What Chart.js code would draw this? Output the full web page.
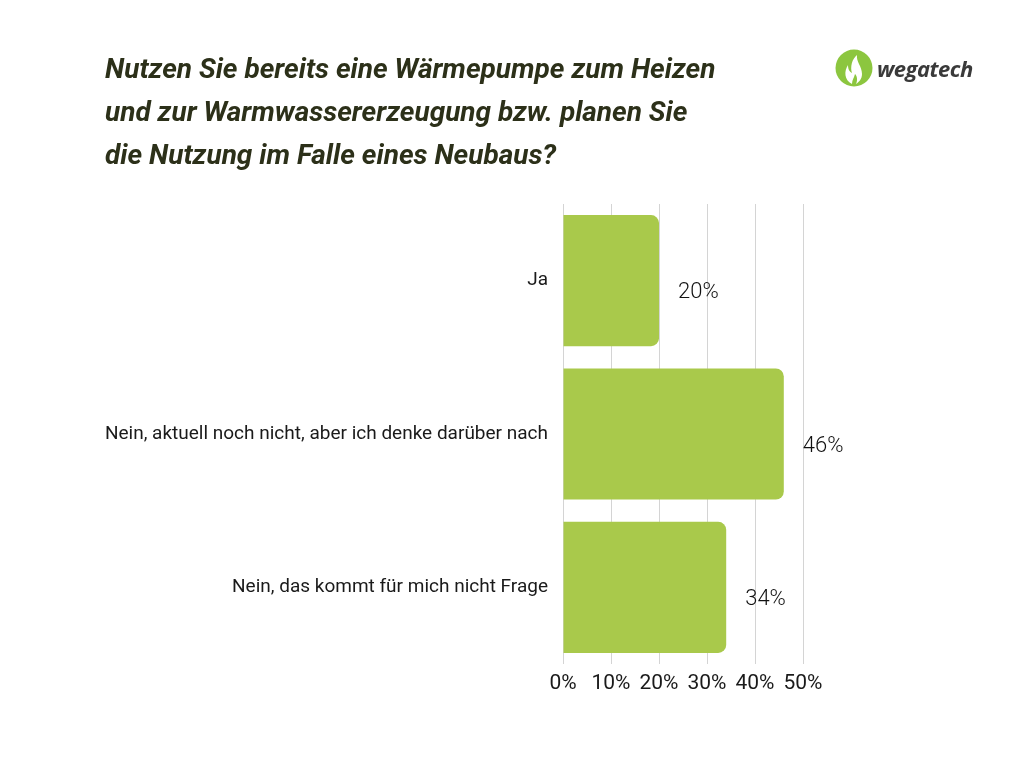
<!DOCTYPE html>
<html>
<head>
<meta charset="utf-8">
<script src="https://cdn.jsdelivr.net/npm/chart.js@4/dist/chart.umd.min.js"></script>
<style>
  html, body { margin: 0; padding: 0; background: #fff; }
  #wrap { position: relative; width: 1024px; height: 768px; }
  #chart { position: absolute; left: 0; top: 0; }
  #title {
    position: absolute; left: 105px; top: 47px;
    font-family: "Roboto", sans-serif;
    font-weight: bold; font-style: italic;
    font-size: 28px; line-height: 43px; color: #2c3019;
  }
  #logo { position: absolute; left: 835px; top: 49px; display: flex; align-items: center; }
  #logo span {
    font-family: "Open Sans", sans-serif; font-weight: bold; font-style: italic;
    font-size: 22px; color: #3a3a3a; margin-left: 4px; letter-spacing: -0.5px;
  }
</style>
</head>
<body>
<div id="wrap">
  <canvas id="chart" width="1024" height="768"></canvas>
  <div id="title">Nutzen Sie bereits eine Wärmepumpe zum Heizen<br>und zur Warmwassererzeugung bzw. planen Sie<br>die Nutzung im Falle eines Neubaus?</div>
  <div id="logo">
    <svg width="38" height="38" viewBox="0 0 38 38">
      <circle cx="19" cy="19" r="18.5" fill="#8cc63f"/>
      <path d="M17 35 C9 31 9 22 13 16 C13 21 15 23 17 24 C15 18 17 10 22 6 C21 13 27 17 27 25 C27 30 24 33 21 35 C23 31 22 27 20 25 C19 29 17 31 17 35 Z" fill="#fff"/>
    </svg>
    <span>wegatech</span>
  </div>
</div>
<script>
"use strict";

const categories = [
    'Ja',
    'Nein, aktuell noch nicht, aber ich denke darüber nach',
    'Nein, das kommt für mich nicht Frage'
];
const shares = [20, 46, 34];
const xTicks = [0, 10, 20, 30, 40, 50];

const fontFamily = '"Roboto", "Liberation Sans", sans-serif';

// value labels right of each bar
const valueLabels = {
    id: 'valueLabels',
    afterDatasetsDraw(chart) {
        const ctx = chart.ctx;
        const meta = chart.getDatasetMeta(0);
        ctx.save();
        ctx.font = '300 22px ' + fontFamily;
        ctx.fillStyle = '#111';
        ctx.textAlign = 'left';
        ctx.textBaseline = 'middle';
        meta.data.forEach((bar, i) => {
            ctx.fillText(shares[i] + '%', bar.x + 19, bar.y + 12);
        });
        ctx.restore();
    }
};

new Chart(document.getElementById('chart').getContext('2d'), {
    type: 'bar',
    data: {
        labels: categories,
        datasets: [{
            data: shares,
            backgroundColor: '#a9c94b',
            borderRadius: 8,
            barPercentage: 0.855,
            categoryPercentage: 1.0
        }]
    },
    options: {
        indexAxis: 'y',
        responsive: false,
        animation: false,
        layout: {
            padding: { left: 0, right: 221, top: 204, bottom: 64 }
        },
        plugins: {
            legend: { display: false },
            tooltip: { enabled: false }
        },
        scales: {
            x: {
                min: 0,
                max: 50,
                afterBuildTicks: (scale) => {
                    scale.ticks = xTicks.map(v => ({ value: v }));
                },
                afterFit: (scale) => { scale.height = 40; },
                border: { display: false },
                grid: { color: '#d4d4d4', lineWidth: 1, drawTicks: false },
                ticks: {
                    color: '#1a1a1a',
                    padding: 7,
                    font: { family: fontFamily, size: 21 },
                    callback: (v) => v + '%'
                }
            },
            y: {
                afterFit: (scale) => { scale.width = 563; },
                border: { display: false },
                grid: { display: false, drawTicks: false },
                ticks: {
                    color: '#1a1a1a',
                    padding: 15,
                    font: { family: fontFamily, size: 19 }
                }
            }
        }
    },
    plugins: [valueLabels]
});
</script>
</body>
</html>
